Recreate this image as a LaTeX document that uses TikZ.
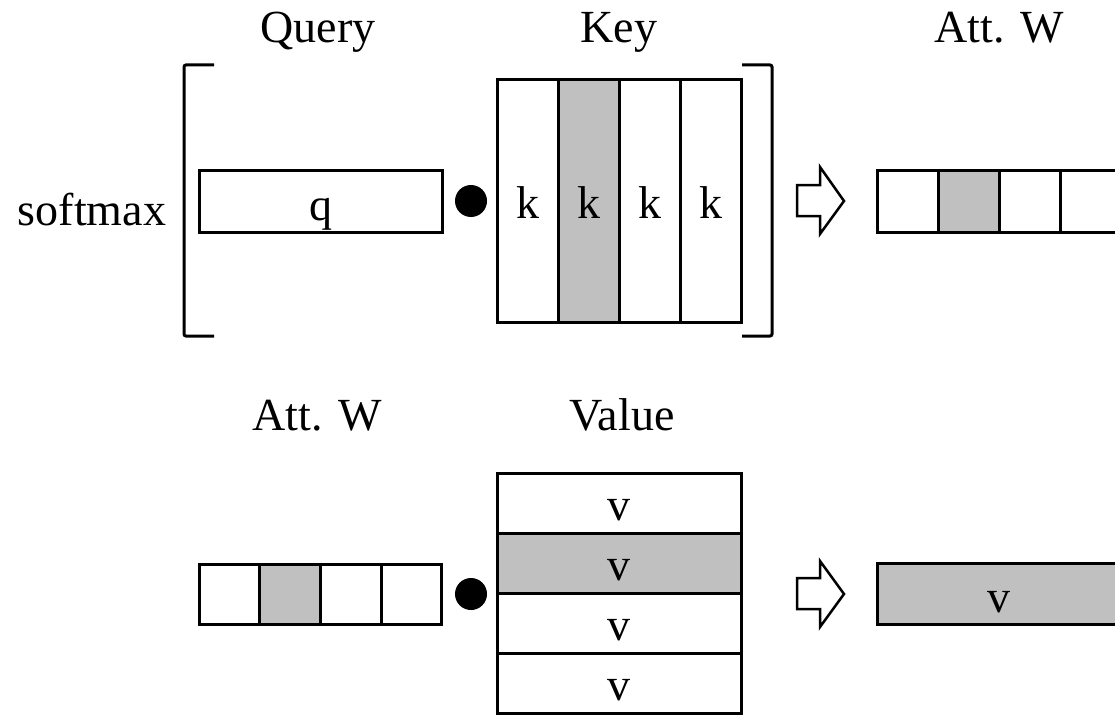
\documentclass[tikz,border=0pt]{standalone}
\usepackage{fontspec}
\setmainfont{Liberation Serif}
\definecolor{hlgray}{HTML}{C0C0C0}
\begin{document}
\begin{tikzpicture}[x=1pt,y=-1pt,
  every node/.style={font=\fontsize{46}{55}\selectfont},
  cell/.style={draw, line width=3pt, inner sep=0pt, outer sep=0pt},
  hot/.style={fill=hlgray},
  lbl/.style={anchor=base, inner sep=0pt, outer sep=0pt},
  brk/.style={line width=3pt, rounded corners=2pt},
  blockarrow/.style={draw, line width=2.5pt, fill=white, line join=miter},
  dotop/.style={circle, fill=black, minimum size=32pt, inner sep=0pt}]
\useasboundingbox (0,0) rectangle (1115,714);
\clip (0,0) rectangle (1115,714);

% ---------- top row: softmax(q . K) => attention weights ----------
\node[lbl] (sm) at (92,225) {softmax};
\node[lbl] (tq) at (318,43) {Query};
\node[lbl] (tk) at (619,43) {Key};
\node[lbl] (ta1) at (999,43) {Att. W};

% brackets
\draw[brk] (214,65) -- (184,65) -- (184,336) -- (214,336);
\draw[brk] (742,65) -- (772,65) -- (772,336) -- (742,336);

% query vector
\node[cell, minimum width=243pt, minimum height=61pt] (q) at (320.5,201.5) {};
\node[lbl] (qt) at (320.5,220) {q};

% dot product
\node[dotop] (d1) at (471,201) {};

% key matrix (columns)
\foreach \i/\x/\s in {1/527.5/, 2/588.5/hot, 3/649.5/, 4/710.5/}{
  \node[cell, \s, minimum width=61pt, minimum height=242pt] (k\i) at (\x,201) {};
  \node[lbl] (kt\i) at (\x,218) {k};
}

% implies arrow
\draw[blockarrow] (797,185) -- (820,185) -- (820,167) -- (844,201)
  -- (820,234) -- (820,216) -- (797,216) -- cycle;

% attention weights
\foreach \i/\x/\s in {1/907.5/, 2/968.5/hot, 3/1029.5/, 4/1090.5/}{
  \node[cell, \s, minimum width=61pt, minimum height=61pt] (a\i) at (\x,201.5) {};
}

% ---------- bottom row: weights . V => output ----------
\node[lbl] (ta2) at (317,430) {Att. W};
\node[lbl] (tv) at (622,430) {Value};

\foreach \i/\x/\s in {1/229.4/, 2/290.1/hot, 3/350.9/, 4/411.6/}{
  \node[cell, \s, minimum width=60.75pt, minimum height=60pt] (w\i) at (\x,594) {};
}

\node[dotop] (d2) at (471,594) {};

\foreach \i/\y/\s in {1/503/, 2/563/hot, 3/623/, 4/683/}{
  \node[cell, \s, minimum width=244pt, minimum height=60pt] (v\i) at (619,\y) {};
  \node[lbl] (vt\i) at (619,\y+17) {v};
}

\draw[blockarrow] (797,578) -- (820,578) -- (820,561) -- (844,594)
  -- (820,627) -- (820,609) -- (797,609) -- cycle;

\node[cell, hot, minimum width=244pt, minimum height=61pt] (out) at (999,593.5) {};
\node[lbl] (ot) at (999,612) {v};
\end{tikzpicture}
\end{document}
